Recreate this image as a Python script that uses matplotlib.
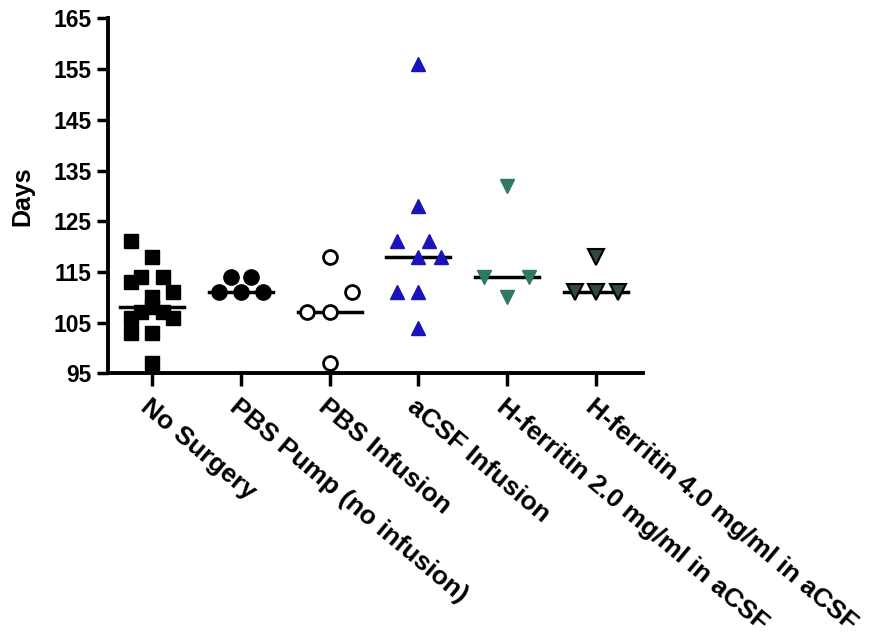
import numpy as np
import matplotlib
matplotlib.use("Agg")
import matplotlib.pyplot as plt

plt.rcParams['font.family'] = ['Liberation Sans', 'DejaVu Sans']
plt.rcParams['font.weight'] = 'bold'

# groups
groups = ["No Surgery", "PBS Pump (no infusion)", "PBS Infusion", "aCSF Infusion",
          "H-ferritin 2.0 mg/ml in aCSF", "H-ferritin 4.0 mg/ml in aCSF"]

# days per animal
no_surgery = [121, 118, 114, 114, 113, 111, 110, 108, 107, 107, 106, 106, 103, 103, 97]
pbs_pump = [114, 114, 111, 111, 111]
pbs_infusion = [118, 111, 107, 107, 97]
acsf = [156, 128, 121, 121, 118, 118, 111, 111, 104]
hf_2 = [132, 114, 114, 110]
hf_4 = [118, 111, 111, 111]

# horizontal spread of points inside a column (scatter layout)
no_surgery_dx = [-0.24, 0, -0.12, 0.12, -0.24, 0.24, 0, 0, -0.12, 0.12, -0.24, 0.24, -0.24, 0, 0]
pbs_pump_dx = [-0.11, 0.11, -0.25, 0, 0.25]
pbs_infusion_dx = [0, 0.25, -0.25, 0, 0]
acsf_dx = [0, 0, -0.24, 0.12, 0, 0.25, -0.24, 0, 0]
hf_2_dx = [0, -0.26, 0.24, 0]
hf_4_dx = [0, -0.24, 0, 0.25]

values = [no_surgery, pbs_pump, pbs_infusion, acsf, hf_2, hf_4]
offsets = [no_surgery_dx, pbs_pump_dx, pbs_infusion_dx, acsf_dx, hf_2_dx, hf_4_dx]

# marker styles
styles = [
    dict(marker='s', ms=10.5, mfc='black', mec='black'),
    dict(marker='o', ms=11, mfc='black', mec='black'),
    dict(marker='o', ms=10, mfc='white', mec='black', mew=2),
    dict(marker='^', ms=10, mfc='#1a14b8', mec='#1a14b8'),
    dict(marker='v', ms=10, mfc='#2e7a5c', mec='#2e7a5c'),
    dict(marker='v', ms=11, mfc='#2f4a40', mec='black', mew=1.5),
]

fig = plt.figure(figsize=(8.74, 6.37), dpi=100)
ax = fig.add_axes([0.124, 0.414, 0.612, 0.557])

for i in range(len(groups)):
    v = np.array(values[i])
    x = i + np.array(offsets[i])
    ax.plot(x, v, linestyle='none', zorder=3, **styles[i])
    med = np.median(v)
    ax.plot([i - 0.36, i + 0.36], [med, med], color='black', lw=2.5, zorder=2)

ax.set_xlim(-0.49, 5.53)
ax.set_ylim(95, 165)
ax.set_yticks(np.arange(95, 166, 10))
ax.set_xticks(range(len(groups)))
ax.set_xticklabels(groups, rotation=-40, ha='left', va='top',
                   rotation_mode='anchor', fontsize=19)
ax.tick_params(axis='y', labelsize=16.5, width=2.5, length=8, pad=4)
ax.tick_params(axis='x', width=2.5, length=9, pad=6)
ax.set_ylabel("Days", fontsize=18, fontweight='bold', labelpad=14)

for s in ['top', 'right']:
    ax.spines[s].set_visible(False)
for s in ['left', 'bottom']:
    ax.spines[s].set_linewidth(2.8)

fig.savefig("out.png", dpi=100)
